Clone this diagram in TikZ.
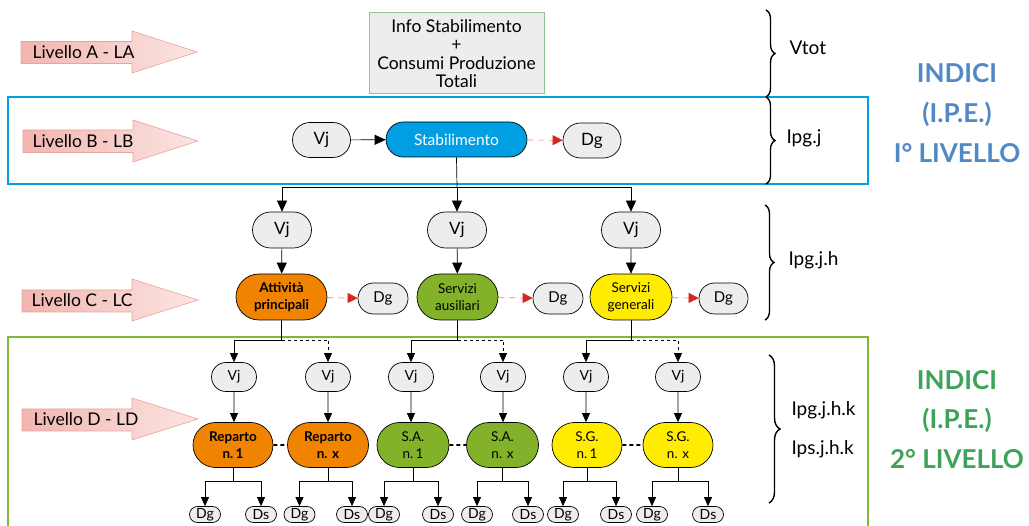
\documentclass[tikz,border=0pt]{standalone}
\usepackage{fontspec}
\setmainfont{Lato}
\usetikzlibrary{arrows.meta,decorations.pathreplacing,shapes.misc}
\definecolor{pinkdark}{HTML}{F2B5B0}
\definecolor{pinklight}{HTML}{FBE5E2}
\definecolor{pinkedge}{HTML}{E8A39D}
\definecolor{nodegray}{HTML}{EDEDED}
\definecolor{boxgreen}{HTML}{8CC68A}
\definecolor{frameblue}{HTML}{00A0E3}
\definecolor{framegreen}{HTML}{7DB83A}
\definecolor{stabblue}{HTML}{009FE3}
\definecolor{orangefill}{HTML}{F08300}
\definecolor{greenfill}{HTML}{82B22A}
\definecolor{yellowfill}{HTML}{FFEC00}
\definecolor{arrred}{HTML}{D9261C}
\definecolor{idxblue}{HTML}{5089C6}
\definecolor{idxgreen}{HTML}{3DA35A}
\begin{document}
\begin{tikzpicture}[x=1pt,y=-1pt,
  lvlarrow/.style={draw=pinkedge, line width=0.6pt, left color=pinkdark, right color=pinklight},
  lvltext/.style={anchor=west, font=\fontsize{17.5}{20}\selectfont},
  pill/.style={rounded rectangle, draw=black, line width=0.7pt, inner sep=0pt, align=center},
  vjb/.style={pill, fill=nodegray, minimum width=58, minimum height=35, font=\fontsize{17}{19}\selectfont},
  dgc/.style={pill, fill=nodegray, minimum width=50, minimum height=31, font=\fontsize{15}{17}\selectfont},
  cnode/.style={pill, minimum height=46, font=\fontsize{13.5}{17}\selectfont},
  vjd/.style={pill, fill=nodegray, minimum width=45, minimum height=29, font=\fontsize{14}{15}\selectfont},
  dnode/.style={pill, minimum height=45, font=\fontsize{13.5}{16.5}\selectfont},
  leaf/.style={pill, fill=nodegray, minimum width=31, minimum height=16, font=\fontsize{14}{14}\selectfont},
  arr/.style={line width=0.7pt, -{Triangle[length=11pt,width=10pt]}},
  arrs/.style={line width=0.7pt, -{Triangle[length=9pt,width=8pt]}},
  redarr/.style={draw=arrred!60, line width=0.7pt, dash pattern=on 6pt off 5pt, -{Triangle[length=10pt,width=10pt,fill=arrred,color=arrred]}},
  bracedeco/.style={decorate, decoration={brace, amplitude=9pt}, line width=1.4pt},
  idxtext/.style={font=\bfseries\fontsize{26}{28}\selectfont},
  sidetext/.style={anchor=west, font=\fontsize{19}{21}\selectfont}
]
\useasboundingbox (0,0) rectangle (1029,526);

% level arrows
\path[lvlarrow] (21,41.5) -- (132,41.5) -- (132,31) -- (197,52) -- (132,73) -- (132,63.5) -- (21,63.5) -- cycle;
\node[lvltext] (la) at (29,52) {Livello A - LA};
\path[lvlarrow] (23,130) -- (133,130) -- (133,120) -- (198,141) -- (133,162) -- (133,152.5) -- (23,152.5) -- cycle;
\node[lvltext] (lb) at (29,141) {Livello B - LB};
\path[lvlarrow] (22,290) -- (132,290) -- (132,279) -- (198,300) -- (132,321) -- (132,312) -- (22,312) -- cycle;
\node[lvltext] (lc) at (28,300) {Livello C - LC};
\path[lvlarrow] (22,409) -- (132,409) -- (132,398) -- (198,419) -- (132,440) -- (132,431) -- (22,431) -- cycle;
\node[lvltext] (ld) at (30,419) {Livello D - LD};

% frames
\draw[frameblue, line width=2.5pt] (8,97) rectangle (868,184);
\draw[framegreen, line width=2.5pt] (8,337) rectangle (868,540);

% info box
\node[draw=boxgreen, line width=1pt, fill=nodegray, minimum width=175, minimum height=81, align=center,
  font=\fontsize{17.5}{18.5}\selectfont, inner sep=0pt] (info) at (456.5,53.5)
  {Info Stabilimento\\+\\Consumi Produzione\\Totali};

% level B
\node[vjb] (vjB) at (321.5,140) {Vj};
\node[pill, fill=stabblue, text=white, minimum width=141, minimum height=35, font=\fontsize{15.5}{17}\selectfont] (stab) at (456.5,139.5) {Stabilimento};
\node[vjb] (dgB) at (592,140.5) {Dg};
\draw[arr] (vjB) -- (stab);
\draw[redarr] (stab) -- (dgB);

% level C
\node[vjb, minimum width=59, minimum height=36] (vjC1) at (282,230) {Vj};
\node[vjb, minimum width=59, minimum height=36] (vjC2) at (457,230) {Vj};
\node[vjb, minimum width=59, minimum height=36] (vjC3) at (631,230) {Vj};
\coordinate (hubB) at (457,187);
\draw[line width=0.7pt] (stab.south) -- (hubB);
\draw[arr] (hubB) -| (vjC1.north);
\draw[arr] (hubB) -- (vjC2.north);
\draw[arr] (hubB) -| (vjC3.north);

\node[cnode, fill=orangefill, minimum width=91, font=\bfseries\fontsize{13.5}{17}\selectfont] (att) at (281.5,297) {Attività\\principali};
\node[cnode, fill=greenfill, minimum width=81] (sa) at (457.5,297) {Servizi\\ausiliari};
\node[cnode, fill=yellowfill, minimum width=82] (sg) at (631,297) {Servizi\\generali};
\draw[arr] (vjC1) -- (att);
\draw[arr] (vjC2) -- (sa);
\draw[arr] (vjC3) -- (sg);
\node[dgc] (dgC1) at (383,298.5) {Dg};
\node[dgc] (dgC2) at (558,298.5) {Dg};
\node[dgc, minimum width=49] (dgC3) at (723.5,298.5) {Dg};
\draw[redarr] (att) -- (dgC1);
\draw[redarr] (sa) -- (dgC2);
\draw[redarr] (sg) -- (dgC3);

% level D
\node[vjd] (vjD1) at (234,377) {Vj};
\node[vjd] (vjD2) at (328,377) {Vj};
\node[vjd] (vjD3) at (411,377) {Vj};
\node[vjd] (vjD4) at (503,377) {Vj};
\node[vjd] (vjD5) at (586,377) {Vj};
\node[vjd] (vjD6) at (678,377) {Vj};

\coordinate (hubC1) at (281.5,340);
\coordinate (hubC2) at (457.5,340);
\coordinate (hubC3) at (631,340);
\draw[line width=0.7pt] (att.south) -- (hubC1);
\draw[line width=0.7pt] (sa.south) -- (hubC2);
\draw[line width=0.7pt] (sg.south) -- (hubC3);
\draw[arrs] (hubC1) -| (vjD1.north);
\draw[arrs, dashed] (hubC1) -| (vjD2.north);
\draw[arrs] (hubC2) -| (vjD3.north);
\draw[arrs, dashed] (hubC2) -| (vjD4.north);
\draw[arrs] (hubC3) -| (vjD5.north);
\draw[arrs, dashed] (hubC3) -| (vjD6.north);

\node[dnode, fill=orangefill, minimum width=80, font=\bfseries\fontsize{13.5}{16.5}\selectfont] (rep1) at (233,445) {Reparto\\n.\,1};
\node[dnode, fill=orangefill, minimum width=81, font=\bfseries\fontsize{13.5}{16.5}\selectfont] (repx) at (328,445) {Reparto\\n. x};
\node[dnode, fill=greenfill, minimum width=72] (sa1) at (413,445) {S.A.\\n.\,1};
\node[dnode, fill=greenfill, minimum width=72] (sax) at (502.5,445) {S.A.\\n. x};
\node[dnode, fill=yellowfill, minimum width=70] (sg1) at (587,445) {S.G.\\n.\,1};
\node[dnode, fill=yellowfill, minimum width=70] (sgx) at (678,445) {S.G.\\n. x};
\draw[arrs] (vjD1) -- (vjD1 |- rep1.north);
\draw[arrs] (vjD2) -- (vjD2 |- repx.north);
\draw[arrs] (vjD3) -- (vjD3 |- sa1.north);
\draw[arrs] (vjD4) -- (vjD4 |- sax.north);
\draw[arrs] (vjD5) -- (vjD5 |- sg1.north);
\draw[arrs] (vjD6) -- (vjD6 |- sgx.north);
\draw[line width=1.8pt, dash pattern=on 4pt off 3pt] (rep1) -- (repx);
\draw[line width=1.8pt, dash pattern=on 4pt off 3pt] (sa1) -- (sax);
\draw[line width=1.8pt, dash pattern=on 4pt off 3pt] (sg1) -- (sgx);

% leaves
\node[leaf] (dg1) at (205,514.5) {Dg};
\node[leaf] (ds1) at (261,514.5) {Ds};
\node[leaf] (dg2) at (299.5,514.5) {Dg};
\node[leaf] (ds2) at (352,514.5) {Ds};
\node[leaf] (dg3) at (384,514.5) {Dg};
\node[leaf] (ds3) at (438,514.5) {Ds};
\node[leaf] (dg4) at (477,514.5) {Dg};
\node[leaf] (ds4) at (528,514.5) {Ds};
\node[leaf] (dg5) at (563,514.5) {Dg};
\node[leaf] (ds5) at (616,514.5) {Ds};
\node[leaf] (dg6) at (652,514.5) {Dg};
\node[leaf] (ds6) at (708,514.5) {Ds};
\foreach \p/\a/\b in {rep1/dg1/ds1, repx/dg2/ds2, sa1/dg3/ds3, sax/dg4/ds4, sg1/dg5/ds5, sgx/dg6/ds6}{
  \draw[line width=0.7pt] (\p.south) -- ++(0,14) coordinate (h\p);
  \draw[arrs] (h\p) -| (\a.north);
  \draw[arrs] (h\p) -| (\b.north);
}

% braces
\draw[bracedeco] (766,10) -- (766,97) coordinate[midway] (br1);
\draw[bracedeco] (766,97) -- (766,184) coordinate[midway] (br2);
\draw[bracedeco] (765,205) -- (765,320) coordinate[midway] (br3);
\draw[bracedeco, decoration={amplitude=11pt}] (769,355) -- (769,503) coordinate[midway] (br4);
\node[sidetext] (vtot) at (786,48) {Vtot};
\node[sidetext] (ipgj) at (783,138) {Ipg.j};
\node[sidetext] (ipgjh) at (785,260) {Ipg.j.h};
\node[sidetext] (ipgjhk) at (788,410) {Ipg.j.h.k};
\node[sidetext] (ipsjhk) at (788,449) {Ips.j.h.k};

% index labels
\node[idxtext, text=idxblue] (i1a) at (957,73) {INDICI};
\node[idxtext, text=idxblue] (i1b) at (957,114) {(I.P.E.)};
\node[idxtext, text=idxblue] (i1c) at (957,153) {I° LIVELLO};
\node[idxtext, text=idxgreen] (i2a) at (957,380) {INDICI};
\node[idxtext, text=idxgreen] (i2b) at (957,420) {(I.P.E.)};
\node[idxtext, text=idxgreen] (i2c) at (957,459) {2° LIVELLO};
\end{tikzpicture}
\end{document}
